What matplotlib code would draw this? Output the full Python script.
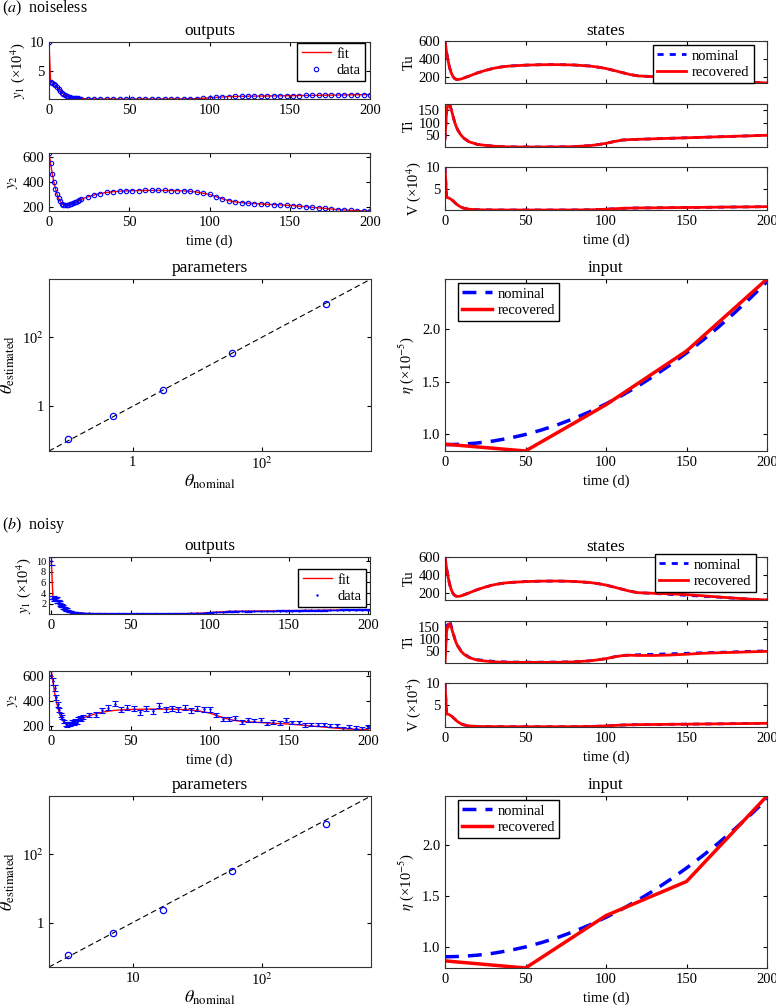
import numpy as np
import matplotlib
matplotlib.use('Agg')
import matplotlib.pyplot as plt

plt.rcParams['font.family'] = ['Liberation Serif', 'DejaVu Serif']
plt.rcParams['mathtext.fontset'] = 'stix'
plt.rcParams['font.size'] = 10.5
plt.rcParams['xtick.direction'] = 'in'
plt.rcParams['ytick.direction'] = 'in'
plt.rcParams['xtick.top'] = True
plt.rcParams['ytick.right'] = True
plt.rcParams['xtick.major.size'] = 3
plt.rcParams['ytick.major.size'] = 3
plt.rcParams['xtick.minor.visible'] = False
plt.rcParams['ytick.minor.visible'] = False
plt.rcParams['axes.linewidth'] = 0.8
plt.rcParams['axes.edgecolor'] = '#333333'
plt.rcParams['legend.fancybox'] = False
plt.rcParams['legend.edgecolor'] = 'black'
plt.rcParams['legend.framealpha'] = 1.0

# ---- observation times (days) ----
t_obs = [0, 1, 2, 3, 4, 5, 6, 7, 8, 9, 10, 11, 12, 13, 14, 15, 16, 17, 18, 19, 20,
         24, 28, 32, 36, 40, 44, 48, 52, 56, 60, 64, 68, 72, 76, 80, 84, 88, 92, 96, 100,
         104, 108, 112, 116, 120, 124, 128, 132, 136, 140, 144, 148, 152, 156, 160,
         164, 168, 172, 176, 180, 184, 188, 192, 196, 200]

# fitted outputs (x10^4 for y1)
y1_fit = [10.0, 3.0, 2.9, 2.75, 2.5, 2.2, 1.85, 1.5, 1.2, 0.95, 0.75, 0.6, 0.48, 0.4, 0.33,
          0.28, 0.24, 0.21, 0.19, 0.17, 0.16,
          0.13, 0.12, 0.11, 0.1, 0.1, 0.1, 0.1, 0.1, 0.1, 0.1, 0.1, 0.1, 0.1, 0.1, 0.11,
          0.12, 0.14, 0.17, 0.22, 0.3, 0.38, 0.46, 0.52, 0.55, 0.57, 0.58, 0.6, 0.61, 0.62,
          0.64, 0.65, 0.67, 0.68, 0.7, 0.71, 0.73, 0.74, 0.76, 0.77, 0.79, 0.8, 0.82, 0.84,
          0.85, 0.87]
y2_fit = [635, 553, 470, 403, 350, 306, 272, 247, 230, 221, 217, 217, 220, 224, 229, 234,
          240, 246, 252, 258, 264,
          282, 298, 310, 319, 325, 329, 331, 333, 334, 335, 335, 335, 335, 334, 333, 331,
          328, 322, 313, 303, 285, 268, 253, 243, 237, 233, 230, 227, 224, 221, 219, 216,
          213, 209, 204, 199, 195, 191, 186, 181, 178, 175, 173, 171, 170]

# noisy observations and their standard errors
y1_noisy = [10.0, 3.2, 2.8, 3.0, 2.4, 2.3, 1.8, 1.6, 1.15, 1.0, 0.7, 0.62, 0.45, 0.42, 0.31,
            0.3, 0.23, 0.22, 0.18, 0.18, 0.15,
            0.14, 0.12, 0.11, 0.11, 0.10, 0.09, 0.10, 0.11, 0.10, 0.10, 0.09, 0.10, 0.11,
            0.10, 0.11, 0.13, 0.14, 0.16, 0.23, 0.29, 0.39, 0.45, 0.53, 0.54, 0.58, 0.57,
            0.61, 0.60, 0.63, 0.63, 0.66, 0.66, 0.69, 0.69, 0.72, 0.72, 0.75, 0.75, 0.78,
            0.78, 0.81, 0.81, 0.85, 0.84, 0.86]
y1_err = [0.8, 0.3, 0.3, 0.3, 0.25, 0.25, 0.2, 0.2, 0.15, 0.12, 0.1, 0.08, 0.07, 0.06, 0.05,
          0.05, 0.05, 0.05, 0.05, 0.05, 0.05,
          0.05, 0.05, 0.05, 0.05, 0.05, 0.05, 0.05, 0.05, 0.05, 0.05, 0.05, 0.05, 0.05,
          0.05, 0.05, 0.05, 0.05, 0.05, 0.05, 0.05, 0.06, 0.06, 0.06, 0.06, 0.06, 0.06,
          0.06, 0.06, 0.06, 0.06, 0.07, 0.07, 0.07, 0.07, 0.07, 0.07, 0.07, 0.07, 0.07,
          0.07, 0.08, 0.08, 0.08, 0.08, 0.08]
y2_noisy = [612, 560, 505, 430, 375, 330, 285, 270, 235, 215, 208, 222, 215, 230, 222, 240,
            232, 255, 262, 258, 268,
            286, 291, 324, 346, 377, 330, 346, 340, 311, 338, 316, 363, 333, 343, 333, 346,
            324, 340, 335, 333, 288, 253, 253, 261, 234, 247, 243, 247, 219, 231, 222, 247,
            228, 228, 207, 209, 209, 212, 201, 207, 181, 194, 187, 179, 194]
y2_err = [30, 28, 25, 22, 20, 18, 16, 15, 14, 13, 13, 13, 13, 14, 14, 14, 14, 15, 15, 15, 16,
          17, 18, 19, 20, 20, 20, 20, 20, 20, 20, 20, 20, 20, 20, 20, 20, 20, 20, 20, 20,
          18, 16, 16, 16, 15, 15, 15, 15, 14, 14, 14, 14, 14, 14, 13, 13, 13, 13, 12, 12,
          12, 12, 12, 12, 12]

# ---- model states ----
t_state = [0, 1, 2, 3, 4, 5, 6, 7, 8, 10, 12, 15, 20, 25, 30, 35, 40, 50, 60, 70, 80, 90,
           95, 100, 105, 110, 115, 120, 130, 140, 150, 160, 170, 180, 190, 200]
Tu_nom = [600, 470, 370, 290, 235, 198, 178, 168, 166, 172, 185, 205, 240, 268, 292, 308,
          318, 328, 333, 334, 330, 318, 306, 290, 268, 245, 222, 207, 198, 188, 178, 168,
          158, 146, 136, 127]
Ti_nom = [35, 150, 174, 170, 150, 125, 102, 84, 70, 50, 37, 24, 14, 10, 7, 5, 4, 3.5, 3.5,
          4, 5, 9, 13, 18, 25, 31, 33, 34, 36, 38, 40, 42, 44, 46, 48, 50]
V_nom = [10, 3.0, 2.9, 2.75, 2.5, 2.2, 1.85, 1.5, 1.2, 0.75, 0.48, 0.28, 0.16, 0.13, 0.12,
         0.1, 0.1, 0.1, 0.1, 0.1, 0.11, 0.15, 0.2, 0.28, 0.38, 0.48, 0.53, 0.57, 0.6, 0.64,
         0.67, 0.71, 0.75, 0.79, 0.82, 0.87]
# recovered states, noisy case
Tu_rec_b = [600, 470, 370, 290, 235, 198, 178, 168, 166, 172, 185, 205, 240, 268, 292, 308,
            318, 328, 333, 334, 330, 318, 306, 290, 268, 245, 222, 207, 200, 194, 186, 173,
            160, 147, 136, 127]
Ti_rec_b = [0, 130, 160, 160, 145, 122, 100, 82, 68, 48, 35, 22, 12, 8, 5, 3.5, 3, 2.5, 2.5,
            3, 4.5, 9, 13, 18, 25, 30, 32, 31, 31, 33, 36, 40, 42, 44, 46, 48]

# ---- input eta (x10^-5) ----
t_in = [0, 10, 20, 30, 40, 50, 60, 70, 80, 90, 100, 110, 120, 130, 140, 150, 160, 170, 180,
        190, 200]
eta_nom = [0.900, 0.904, 0.916, 0.935, 0.962, 0.997, 1.040, 1.090, 1.148, 1.214, 1.288,
           1.369, 1.458, 1.555, 1.660, 1.772, 1.892, 2.020, 2.156, 2.299, 2.450]
t_knot = [0, 50, 100, 150, 200]
eta_rec_a = [0.905, 0.84, 1.28, 1.79, 2.475]
eta_rec_b = [0.86, 0.79, 1.305, 1.64, 2.48]

# ---- parameters ----
theta_nom = [0.1, 0.5, 3.0, 35, 1000]
theta_est_a = [0.11, 0.53, 3.06, 35, 970]
theta_est_b = [0.11, 0.51, 2.4, 33, 780]
theta_lim = [10 ** -1.3, 10 ** 3.7]

W, H = 776, 1008
RED, BLUE = '#ff0000', '#0000ff'
TITLE_FS = 12.5


def box(l, t, r, b):
    return [l / W, 1 - b / H, (r - l) / W, (b - t) / H]


def figpt(x, y):
    return (x / W, 1 - y / H)


fig = plt.figure(figsize=(W / 100, H / 100), dpi=100)

leg_kw = dict(fontsize=10.5, borderpad=0.3, labelspacing=0.2, handlelength=2.0,
              handletextpad=0.4, borderaxespad=0)


def outputs_panel(noisy):
    off = 0 if not noisy else 515
    ax1 = fig.add_axes(box(49, 42 + off, 370, 99 + off))
    ax2 = fig.add_axes(box(49, 153 + off + (0 if not noisy else 3), 370,
                           211 + off + (0 if not noisy else 4)))
    if not noisy:
        ax1.plot(t_obs, y1_fit, color=RED, lw=1.0, label='fit')
        ax1.plot(t_obs, y1_fit, 'o', mfc='none', mec=BLUE, ms=3.2, mew=0.8, label='data')
        ax2.plot(t_obs, y2_fit, color=RED, lw=1.0)
        ax2.plot(t_obs, y2_fit, 'o', mfc='none', mec=BLUE, ms=3.2, mew=0.8)
        ax1.set_xlim(0, 200)
        ax2.set_xlim(0, 200)
        ax1.set_ylim(min(y1_fit), max(y1_fit))
        ax2.set_ylim(min(y2_fit), max(y2_fit))
        ax1.set_yticks([5, 10])
        ax1.legend(loc='upper right', bbox_to_anchor=figpt(365, 43),
                   bbox_transform=fig.transFigure, **leg_kw)
    else:
        ax1.plot(t_obs, y1_fit, color=RED, lw=1.0, label='fit')
        ax1.errorbar(t_obs, y1_noisy, yerr=y1_err, fmt='none', ecolor=BLUE, elinewidth=0.8,
                     capsize=2.6, capthick=0.9)
        ax1.plot(t_obs, y1_noisy, '.', color=BLUE, ms=1.5, label='data')
        ax2.plot(t_obs, y2_fit, color=RED, lw=1.0)
        ax2.errorbar(t_obs, y2_noisy, yerr=y2_err, fmt='none', ecolor=BLUE, elinewidth=0.8,
                     capsize=2.3, capthick=0.8)
        ax2.plot(t_obs, y2_noisy, '.', color=BLUE, ms=1.5)
        ax1.set_xlim(-1.5, 201)
        ax2.set_xlim(-1.5, 201)
        lo1 = min(np.array(y1_noisy) - np.array(y1_err))
        hi1 = max(np.array(y1_noisy) + np.array(y1_err))
        lo2 = min(np.array(y2_noisy) - np.array(y2_err))
        hi2 = max(np.array(y2_noisy) + np.array(y2_err))
        ax1.set_ylim(lo1, hi1)
        ax2.set_ylim(lo2, hi2)
        ax1.set_yticks([2, 4, 6, 8, 10])
        # tightly packed ticks: smaller labels so they do not collide
        ax1.tick_params(axis='y', labelsize=7.5, pad=2)
        ax1.legend(loc='upper right', bbox_to_anchor=figpt(366, 569),
                   bbox_transform=fig.transFigure, **leg_kw)
    ax2.set_yticks([200, 400, 600])
    for ax in (ax1, ax2):
        ax.set_xticks([0, 50, 100, 150, 200])
    ax1.set_ylabel('$y_1$ (×10$^4$)', labelpad=2)
    ax2.set_ylabel('$y_2$', labelpad=2)
    ax2.set_xlabel('time (d)', labelpad=4)
    ax1.set_title('outputs', fontsize=TITLE_FS, pad=5)


def states_panel(noisy):
    boxes = [(41, 83), (104, 147), (167, 210)] if not noisy else \
        [(556.7, 600), (620.7, 663), (683, 726.7)]
    axs = [fig.add_axes(box(445, t, 767, b)) for t, b in boxes]
    Tu_rec = Tu_nom if not noisy else Tu_rec_b
    Ti_rec = Ti_nom if not noisy else Ti_rec_b
    nominal = [Tu_nom, Ti_nom, V_nom]
    recovered = [Tu_rec, Ti_rec, V_nom]
    labels = ['Tu', 'Ti', 'V (×10$^4$)']
    yticks = [[200, 400, 600], [50, 100, 150], [5, 10]]
    for ax, nom, rec, lab, yt in zip(axs, nominal, recovered, labels, yticks):
        ax.plot(t_state, nom, '--', color=BLUE, lw=2.0, dashes=(2.2, 2.2), label='nominal')
        ax.plot(t_state, rec, '-', color=RED, lw=2.0, label='recovered')
        ax.set_xlim(0, 200)
        ax.set_ylim(min(min(nom), min(rec)), max(max(nom), max(rec)))
        ax.set_yticks(yt)
        ax.set_xticks([0, 50, 100, 150, 200])
        ax.set_ylabel(lab, labelpad=2)
    axs[0].tick_params(labelbottom=False)
    axs[1].tick_params(labelbottom=False)
    axs[2].set_xlabel('time (d)', labelpad=4)
    axs[0].set_title('states', fontsize=TITLE_FS, pad=4)
    anchor = figpt(754, 45) if not noisy else figpt(756, 554)
    axs[0].legend(loc='upper right', bbox_to_anchor=anchor, bbox_transform=fig.transFigure,
                  **leg_kw)


def params_panel(noisy):
    t, b = (279, 451) if not noisy else (796, 967)
    ax = fig.add_axes(box(49, t, 371, b))
    est = theta_est_a if not noisy else theta_est_b
    ax.plot(theta_lim, theta_lim, '--', color='black', lw=0.8, dashes=(5, 3))
    ax.plot(theta_nom, est, 'o', mfc='none', mec=BLUE, ms=4.5, mew=0.9)
    ax.set_xscale('log')
    ax.set_yscale('log')
    ax.set_xlim(theta_lim)
    ax.set_ylim(theta_lim)
    ax.minorticks_off()
    ax.set_xticks([1, 100])
    ax.set_xticklabels(['1', '10$^2$'] if not noisy else ['10', '10$^2$'])
    ax.set_yticks([1, 100])
    ax.set_yticklabels(['1', '10$^2$'])
    ax.set_xlabel(r'$\theta_{\mathrm{nominal}}$', fontsize=13, labelpad=0)
    ax.set_ylabel(r'$\theta_{\mathrm{estimated}}$', fontsize=13, labelpad=4)
    ax.set_title('parameters', fontsize=TITLE_FS, pad=5)


def input_panel(noisy):
    t, b = (279, 451) if not noisy else (796, 968)
    ax = fig.add_axes(box(445, t, 767, b))
    rec = eta_rec_a if not noisy else eta_rec_b
    ax.plot(t_in, eta_nom, '--', color=BLUE, lw=2.5, dashes=(4, 2.6), label='nominal')
    ax.plot(t_knot, rec, '-', color=RED, lw=2.5, label='recovered')
    ax.set_xlim(0, 200)
    ax.set_ylim(min(min(eta_nom), min(rec)), max(max(eta_nom), max(rec)))
    ax.set_xticks([0, 50, 100, 150, 200])
    ax.set_yticks([1.0, 1.5, 2.0])
    ax.set_yticklabels(['1.0', '1.5', '2.0'])
    ax.set_ylabel(r'$\eta$ (×10$^{-5}$)', labelpad=4)
    ax.set_xlabel('time (d)', labelpad=4)
    ax.set_title('input', fontsize=TITLE_FS, pad=5)
    anchor = figpt(458, 283) if not noisy else figpt(458, 800)
    ax.legend(loc='upper left', bbox_to_anchor=anchor, bbox_transform=fig.transFigure,
              **leg_kw)


for noisy in (False, True):
    outputs_panel(noisy)
    states_panel(noisy)
    params_panel(noisy)
    input_panel(noisy)

fig.text(2 / W, 1 - 8 / H, '($a$)  noiseless', fontsize=11.5, va='center', ha='left')
fig.text(2 / W, 1 - 525 / H, '($b$)  noisy', fontsize=11.5, va='center', ha='left')

fig.savefig('out.png', dpi=100)
